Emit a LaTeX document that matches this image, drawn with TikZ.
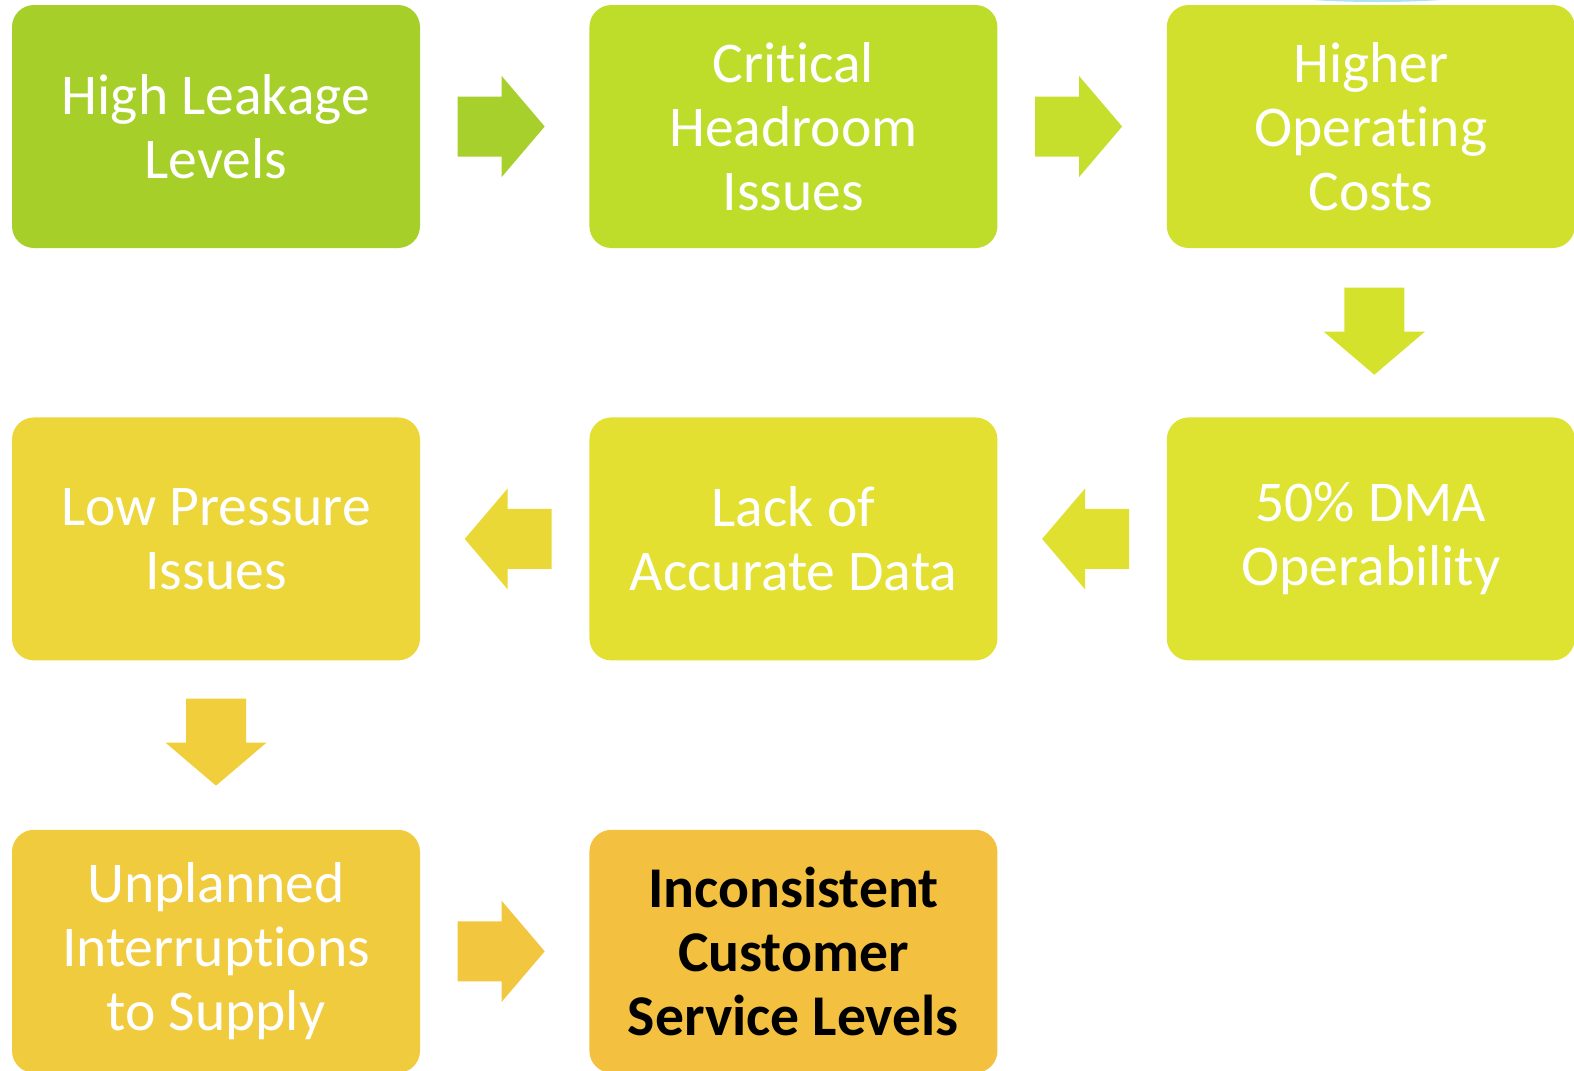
\documentclass[tikz,border=0pt]{standalone}
\usepackage{fontspec}
\setmainfont{Carlito}[Ligatures={NoCommon}]
\usetikzlibrary{positioning,calc}

\definecolor{cLeak}{RGB}{166,207,42}
\definecolor{cHead}{RGB}{190,220,42}
\definecolor{cCost}{RGB}{208,224,44}
\definecolor{cDMA}{RGB}{222,226,48}
\definecolor{cData}{RGB}{228,224,50}
\definecolor{cPress}{RGB}{236,214,58}
\definecolor{cSupply}{RGB}{241,203,62}
\definecolor{cService}{RGB}{243,192,64}
\definecolor{aOne}{RGB}{168,208,44}
\definecolor{aTwo}{RGB}{198,222,44}
\definecolor{aThree}{RGB}{213,226,44}
\definecolor{aFour}{RGB}{224,224,48}
\definecolor{aFive}{RGB}{234,216,54}
\definecolor{aSix}{RGB}{240,206,60}
\definecolor{aSeven}{RGB}{242,198,62}
\definecolor{sliver}{RGB}{173,225,245}

\tikzset{
  box/.style={rounded corners=0.22cm, minimum width=4.08cm, minimum height=2.43cm,
    inner sep=0pt, align=center, text=white,
    font=\fontsize{16.4}{18.2}\selectfont},
  blockarrow/.pic={
    \path[pic actions] (-0.435,0.30) -- (0.005,0.30) -- (0.005,0.505) -- (0.435,0)
      -- (0.005,-0.505) -- (0.005,-0.30) -- (-0.435,-0.30) -- cycle;
  }
}

\begin{document}
\begin{tikzpicture}
\useasboundingbox (0,0) rectangle (15.74,-10.70);
% cut-off shape at the top edge
\fill[sliver] (13.77,0.10) ellipse (1.15 and 0.12);
\node[box, fill=cLeak] (leak) at (2.16,-1.265) {High Leakage\\Levels};
\node[box, fill=cHead, right=1.68cm of leak] (headroom) {Critical\\Headroom\\Issues};
\node[box, fill=cCost, right=1.68cm of headroom] (costs) {Higher\\Operating\\Costs};
\node[box, fill=cDMA, below=1.68cm of costs] (dma) {50\% DMA\\Operability};
\node[box, fill=cData, left=1.68cm of dma] (data) {Lack of\\Accurate Data};
\node[box, fill=cPress, left=1.68cm of data] (pressure) {Low Pressure\\Issues};
\node[box, fill=cSupply, below=1.68cm of pressure] (supply) {Unplanned\\Interruptions\\to Supply};
\node[box, fill=cService, right=1.68cm of supply, text=black,
  font=\fontsize{16.4}{18.2}\selectfont\bfseries] (service) {Inconsistent\\Customer\\Service Levels};
% block arrows
\pic[fill=aOne] at ($(leak.east)!0.5!(headroom.west)+(-0.035,0)$) {blockarrow};
\pic[fill=aTwo] at ($(headroom.east)!0.5!(costs.west)+(-0.035,0)$) {blockarrow};
\pic[fill=aThree, rotate=-90] at ($(costs.south)!0.5!(dma.north)+(0.035,0.015)$) {blockarrow};
\pic[fill=aFour, rotate=180] at ($(dma.west)!0.5!(data.east)+(0.035,0)$) {blockarrow};
\pic[fill=aFive, rotate=180] at ($(data.west)!0.5!(pressure.east)+(0.035,0)$) {blockarrow};
\pic[fill=aSix, rotate=-90] at ($(pressure.south)!0.5!(supply.north)+(0,0.03)$) {blockarrow};
\pic[fill=aSeven] at ($(supply.east)!0.5!(service.west)+(-0.035,0)$) {blockarrow};
\end{tikzpicture}
\end{document}
